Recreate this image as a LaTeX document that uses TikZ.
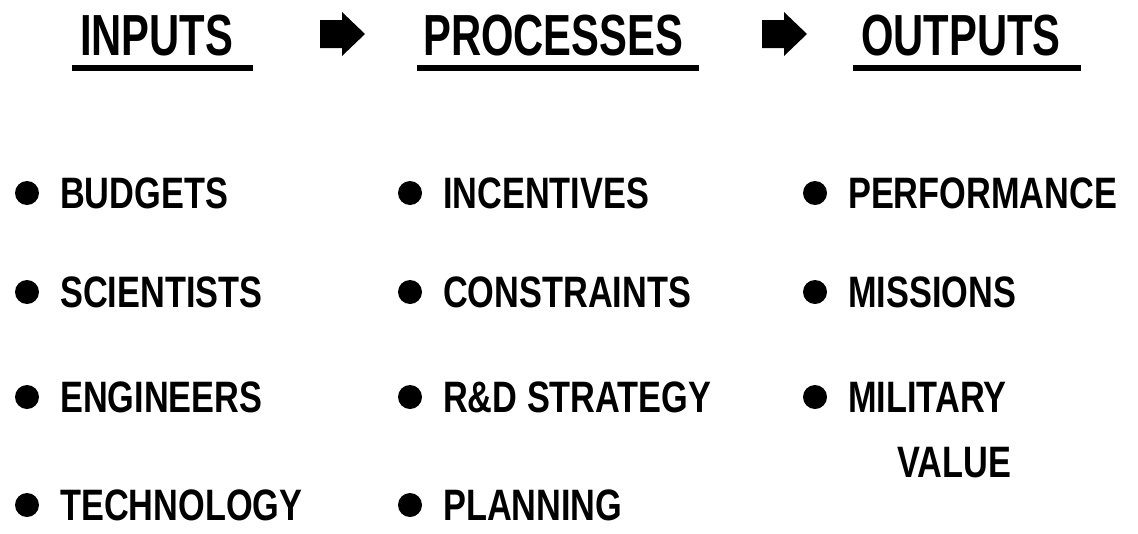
\documentclass[tikz,border=0pt]{standalone}
\usepackage{fontspec}
\setmainfont{Liberation Sans}
\newfontfamily\headfont[FakeStretch=0.72]{Liberation Sans}
\newfontfamily\itemfont[FakeStretch=0.78]{Liberation Sans}
\tikzset{
  head/.style={inner sep=0pt,anchor=base west,font={\headfont\bfseries\fontsize{58}{60}\selectfont}},
  item/.style={inner sep=0pt,anchor=base west,font={\itemfont\bfseries\fontsize{44}{46}\selectfont}},
  rule/.style={line width=6pt}
}
\begin{document}
\begin{tikzpicture}[x=1pt,y=-1pt]
	\useasboundingbox (0,0) rectangle (1138,533);
	%Headings
	\node[head] (inputs) at (80,55) {INPUTS};
	\node[head] (processes) at (423,55) {PROCESSES};
	\node[head] (outputs) at (861,55) {OUTPUTS};
	%Underlines
	\foreach \a/\b in {72/253,417/699,853/1081}
		\draw[rule] (\a,68) -- (\b,68);
	%Block arrows
	\foreach \x in {320,762}
		\fill[shift={(\x,0)}] (0,20) -- (22,20) -- (22,12) -- (45,34) -- (22,56) -- (22,48) -- (0,48) -- cycle;
	%Inputs
	\foreach \t/\y [count=\i] in {BUDGETS/208,SCIENTISTS/307,ENGINEERS/412,TECHNOLOGY/520}
		{
			\node[item] (in\i) at (60,\y) {\t};
			\fill ([xshift=-33pt,yshift=15pt]in\i.base west) circle (12pt);
		}
	%Processes
	\foreach \t/\y [count=\i] in {INCENTIVES/208,CONSTRAINTS/307,R\&D STRATEGY/412,PLANNING/520}
		{
			\node[item] (pr\i) at (443,\y) {\t};
			\fill ([xshift=-33pt,yshift=15pt]pr\i.base west) circle (12pt);
		}
	%Outputs
	\foreach \t/\y [count=\i] in {PERFORMANCE/208,MISSIONS/307,MILITARY/412}
		{
			\node[item] (out\i) at (848,\y) {\t};
			\fill ([xshift=-33pt,yshift=15pt]out\i.base west) circle (12pt);
		}
	\node[item] (value) at (897,477) {VALUE};
\end{tikzpicture}
\end{document}
